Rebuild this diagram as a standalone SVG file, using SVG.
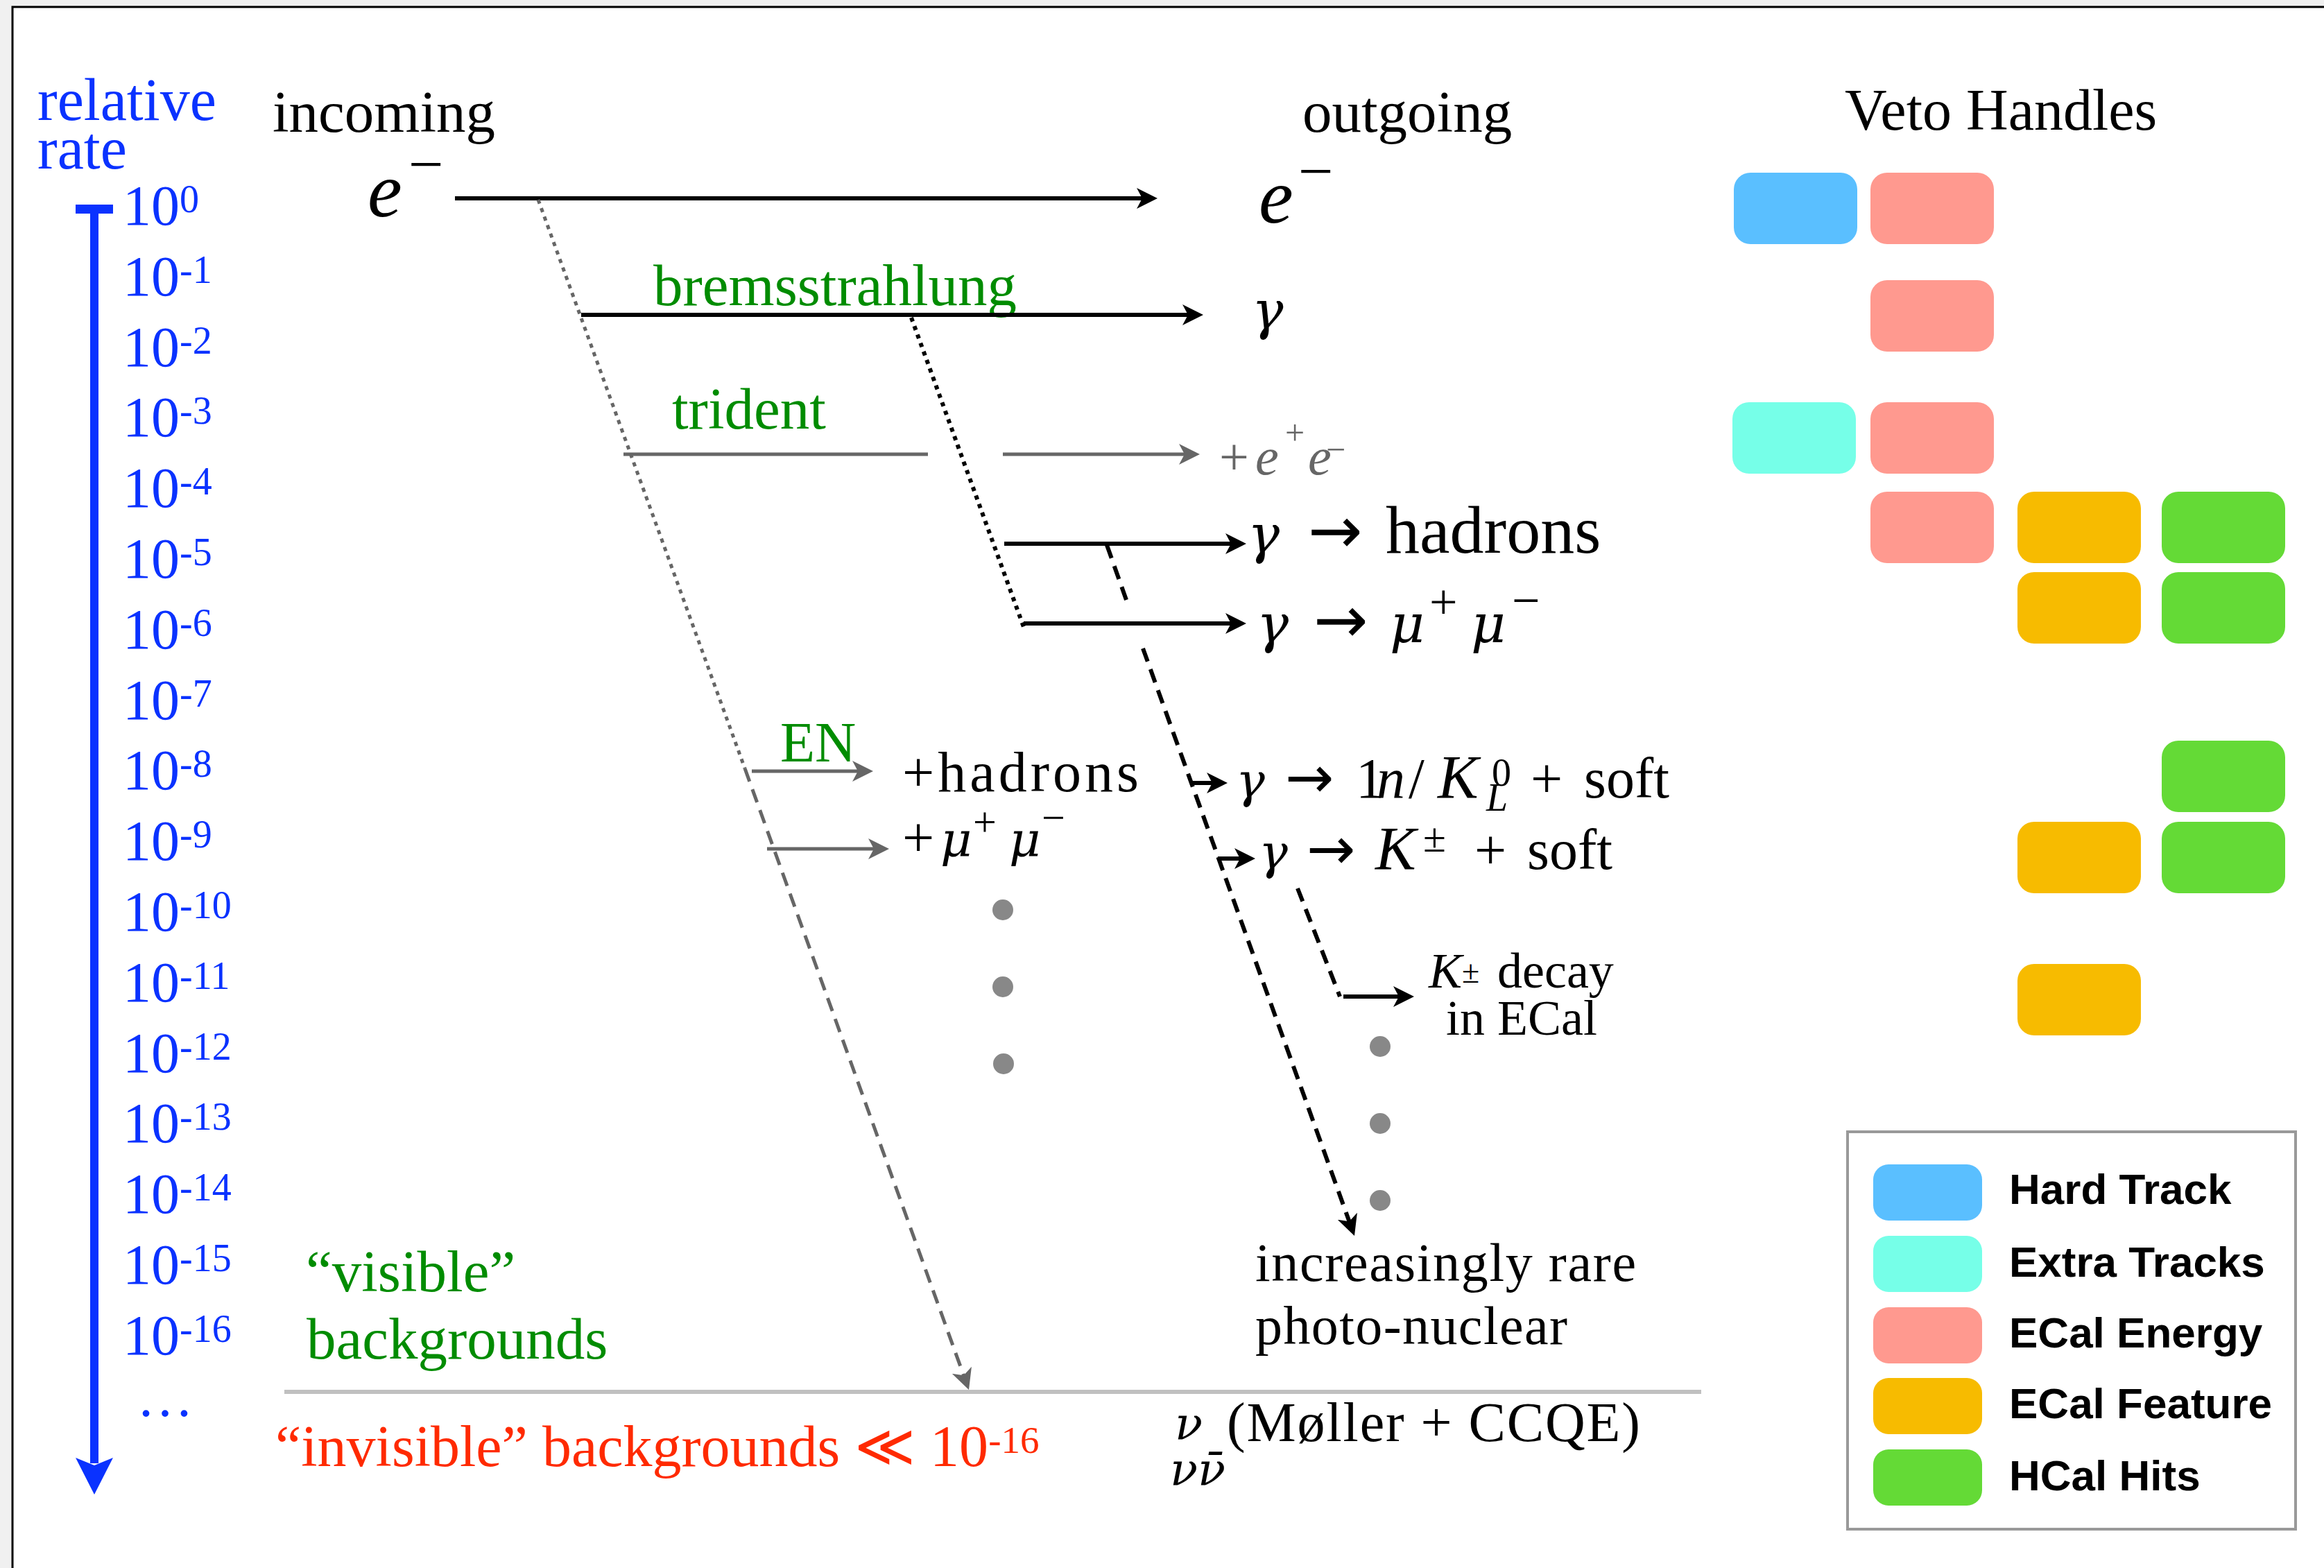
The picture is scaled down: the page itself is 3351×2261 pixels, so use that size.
<svg xmlns="http://www.w3.org/2000/svg" width="3351" height="2261" viewBox="0 0 3351 2261">
<style>
.t{font-family:"Liberation Serif","DejaVu Serif",serif;fill:#000}
.blue{fill:#0a32ff}
.green{fill:#008c00}
.red{fill:#ff2a00}
.gry{fill:#666}
.it{font-style:italic}
.gk{font-family:"DejaVu Serif",serif;font-style:italic}
.ar{font-family:"DejaVu Sans",sans-serif;font-style:normal}
.tick{font-family:"Liberation Serif","DejaVu Serif",serif;font-size:82px;fill:#0a32ff}
.sup{font-size:56px}
.leg{font-family:"Liberation Sans",Arial,sans-serif;font-weight:bold;font-size:62px;fill:#000}
.ln{fill:none;stroke:#000;stroke-width:6}
.lg{fill:none;stroke:#666;stroke-width:5}
.dotted{stroke-dasharray:6 7}
.dashed{stroke-dasharray:20 12}
.dot{fill:#888}
.ht{fill:#5abfff}.et{fill:#76ffe8}.ee{fill:#ff998f}.ef{fill:#f7bb00}.hh{fill:#64da36}
</style>
<defs>
<marker id="ah" markerUnits="userSpaceOnUse" markerWidth="30" markerHeight="34" viewBox="0 0 30 34" refX="20" refY="17" orient="auto"><path d="M0,2 L30,17 L0,32 L8,17 Z" fill="#000"/></marker>
<marker id="ahg" markerUnits="userSpaceOnUse" markerWidth="30" markerHeight="34" viewBox="0 0 30 34" refX="20" refY="17" orient="auto"><path d="M0,2 L30,17 L0,32 L8,17 Z" fill="#666"/></marker>
</defs>

<rect x="0" y="0" width="3351" height="2261" fill="#f0f0f0"/>
<rect x="18" y="10" width="3400" height="2300" fill="#fff" stroke="#000" stroke-width="3"/>

<g id="rate-scale">
<text class="t blue" font-size="86" x="54" y="173">relative</text>
<text class="t blue" font-size="86" x="54" y="243">rate</text>
<rect x="109" y="295" width="54" height="13" fill="#0a32ff"/>
<rect x="130" y="295" width="12" height="1815" fill="#0a32ff"/>
<polygon points="109,2102 136,2113 163,2102 136,2155" fill="#0a32ff"/>
<text class="tick" x="177" y="324">10<tspan class="sup" dy="-18">0</tspan></text>
<text class="tick" x="177" y="426">10<tspan class="sup" dy="-18">-1</tspan></text>
<text class="tick" x="177" y="528">10<tspan class="sup" dy="-18">-2</tspan></text>
<text class="tick" x="177" y="629">10<tspan class="sup" dy="-18">-3</tspan></text>
<text class="tick" x="177" y="731">10<tspan class="sup" dy="-18">-4</tspan></text>
<text class="tick" x="177" y="833">10<tspan class="sup" dy="-18">-5</tspan></text>
<text class="tick" x="177" y="935">10<tspan class="sup" dy="-18">-6</tspan></text>
<text class="tick" x="177" y="1037">10<tspan class="sup" dy="-18">-7</tspan></text>
<text class="tick" x="177" y="1138">10<tspan class="sup" dy="-18">-8</tspan></text>
<text class="tick" x="177" y="1240">10<tspan class="sup" dy="-18">-9</tspan></text>
<text class="tick" x="177" y="1342">10<tspan class="sup" dy="-18">-10</tspan></text>
<text class="tick" x="177" y="1444">10<tspan class="sup" dy="-18">-11</tspan></text>
<text class="tick" x="177" y="1546">10<tspan class="sup" dy="-18">-12</tspan></text>
<text class="tick" x="177" y="1647">10<tspan class="sup" dy="-18">-13</tspan></text>
<text class="tick" x="177" y="1749">10<tspan class="sup" dy="-18">-14</tspan></text>
<text class="tick" x="177" y="1851">10<tspan class="sup" dy="-18">-15</tspan></text>
<text class="tick" x="177" y="1953">10<tspan class="sup" dy="-18">-16</tspan></text>
<text class="tick" x="197" y="2042" font-size="56">…</text>
</g>

<g id="headers">
<text class="t" font-size="85" x="393" y="190">incoming</text>
<text class="t" font-size="85" x="1878" y="190">outgoing</text>
<text class="t" font-size="84" x="2660" y="187">Veto Handles</text>
</g>

<g id="incoming-electron"><text class="t it" font-size="112" x="530" y="312">e<tspan x="589" y="267" font-size="90" font-style="normal">−</tspan></text></g>
<g id="outgoing-electron"><text class="t it" font-size="112" x="1815" y="321">e<tspan x="1872" y="277" font-size="90" font-style="normal">−</tspan></text></g>
<g id="brems-label"><text class="t green" font-size="85" x="942" y="440">bremsstrahlung</text></g>
<g id="photon"><text class="t gk" font-size="76" x="1805" y="474">γ</text></g>
<g id="trident-label"><text class="t green" font-size="85" x="969" y="618">trident</text></g>
<g id="trident-out"><text class="t gry" font-size="76" y="684"><tspan x="1758">+</tspan><tspan x="1810" class="it">e</tspan><tspan x="1853" font-size="50" dy="-43">+</tspan><tspan x="1886" class="it" dy="43">e</tspan><tspan x="1912" font-size="50" dy="-19">−</tspan></text></g>
<g id="gamma-hadrons"><text class="t" font-size="90" y="797"><tspan x="1799" class="gk" font-size="77">γ</tspan><tspan x="1886" class="ar" font-size="94">→</tspan><tspan x="1998" font-size="98">hadrons</tspan></text></g>
<g id="gamma-mumu"><text class="t" font-size="90" y="926"><tspan x="1812" class="gk" font-size="77">γ</tspan><tspan x="1894" class="ar" font-size="94">→</tspan><tspan x="2004" class="gk" font-size="77">μ</tspan><tspan x="2061" font-size="72" dy="-34">+</tspan><tspan x="2121" class="gk" font-size="77" dy="34">μ</tspan><tspan x="2180" font-size="72" dy="-36">−</tspan></text></g>
<g id="en-label"><text class="t green" font-size="82" x="1125" y="1098">EN</text></g>
<g id="en-hadrons"><text class="t" font-size="82" x="1301" y="1141" textLength="341" lengthAdjust="spacing">+hadrons</text></g>
<g id="en-mumu"><text class="t" font-size="82" y="1235"><tspan x="1301">+</tspan><tspan x="1356" class="gk" font-size="70">μ</tspan><tspan x="1403" font-size="60" dy="-30">+</tspan><tspan x="1455" class="gk" font-size="70" dy="30">μ</tspan><tspan x="1502" font-size="60" dy="-36">−</tspan></text></g>
<g id="gamma-neutral"><text class="t" font-size="82" y="1150"><tspan x="1782" class="gk" font-size="70">γ</tspan><tspan x="1853" class="ar" font-size="84">→</tspan><tspan x="1955">1</tspan><tspan x="1985" class="it">n</tspan><tspan x="2031">/</tspan><tspan x="2073" class="it" font-size="88">K</tspan><tspan x="2151" font-size="56" dy="-17">0</tspan><tspan x="2143" font-size="56" class="it" dy="36">L</tspan><tspan x="2207" dy="-19">+</tspan><tspan x="2284">soft</tspan></text></g>
<g id="gamma-kaon"><text class="t" font-size="82" y="1253"><tspan x="1815" class="gk" font-size="70">γ</tspan><tspan x="1884" class="ar" font-size="84">→</tspan><tspan x="1983" class="it" font-size="88">K</tspan><tspan x="2052" font-size="60" dy="-25">±</tspan><tspan x="2126" dy="25">+</tspan><tspan x="2202">soft</tspan></text></g>
<g id="kaon-decay"><text class="t" font-size="72" y="1424"><tspan x="2060" class="it">K</tspan><tspan x="2108" font-size="46" dy="-7">±</tspan><tspan x="2159" dy="7">decay</tspan></text><text class="t" font-size="72" x="2085" y="1492">in ECal</text></g>
<g id="en-more"><circle class="dot" cx="1446" cy="1312" r="15"/><circle class="dot" cx="1446" cy="1423" r="15"/><circle class="dot" cx="1447" cy="1534" r="15"/></g>
<g id="pn-more"><circle class="dot" cx="1990" cy="1509" r="15"/><circle class="dot" cx="1990" cy="1620" r="15"/><circle class="dot" cx="1990" cy="1731" r="15"/></g>
<g id="photonuclear-label"><text class="t" font-size="78" x="1810" y="1847" textLength="549" lengthAdjust="spacing">increasingly rare</text><text class="t" font-size="78" x="1810" y="1938" textLength="450" lengthAdjust="spacing">photo-nuclear</text></g>
<g id="visible-label"><text class="t green" font-size="85" x="441" y="1862">“visible”</text><text class="t green" font-size="85" x="442" y="1959">backgrounds</text></g>
<g id="invisible-label"><text class="t red" font-size="84" x="397" y="2114">“invisible” backgrounds ≪ 10<tspan font-size="55" dy="-19">-16</tspan></text></g>
<g id="neutrino-label"><text class="t gk" font-size="66" x="1694" y="2076">ν</text><text class="t gk" font-size="66" x="1687" y="2142">νν̄</text><text class="t" font-size="80" x="1769" y="2078" textLength="596" lengthAdjust="spacing">(Møller + CCQE)</text></g>

<g id="separator"><line x1="410" y1="2007" x2="2453" y2="2007" stroke="#c0c0c0" stroke-width="6"/></g>

<g id="veto-handles">
<rect class="ht" x="2500" y="249" width="178" height="103" rx="24"/>
<rect class="ee" x="2697" y="249" width="178" height="103" rx="24"/>
<rect class="ee" x="2697" y="404" width="178" height="103" rx="24"/>
<rect class="et" x="2498" y="580" width="178" height="103" rx="24"/>
<rect class="ee" x="2697" y="580" width="178" height="103" rx="24"/>
<rect class="ee" x="2697" y="709" width="178" height="103" rx="24"/>
<rect class="ef" x="2909" y="709" width="178" height="103" rx="24"/>
<rect class="hh" x="3117" y="709" width="178" height="103" rx="24"/>
<rect class="ef" x="2909" y="825" width="178" height="103" rx="24"/>
<rect class="hh" x="3117" y="825" width="178" height="103" rx="24"/>
<rect class="hh" x="3117" y="1068" width="178" height="103" rx="24"/>
<rect class="ef" x="2909" y="1185" width="178" height="103" rx="24"/>
<rect class="hh" x="3117" y="1185" width="178" height="103" rx="24"/>
<rect class="ef" x="2909" y="1390" width="178" height="103" rx="24"/>
</g>

<g id="legend">
<rect x="2664" y="1632" width="646" height="573" fill="#fff" stroke="#999" stroke-width="4"/>
<rect class="ht" x="2701" y="1679" width="157" height="81" rx="22"/>
<rect class="et" x="2701" y="1782" width="157" height="81" rx="22"/>
<rect class="ee" x="2701" y="1885" width="157" height="81" rx="22"/>
<rect class="ef" x="2701" y="1987" width="157" height="81" rx="22"/>
<rect class="hh" x="2701" y="2090" width="157" height="81" rx="22"/>
<text class="leg" x="2897" y="1736">Hard Track</text>
<text class="leg" x="2897" y="1841">Extra Tracks</text>
<text class="leg" x="2897" y="1943">ECal Energy</text>
<text class="leg" x="2897" y="2045">ECal Feature</text>
<text class="leg" x="2897" y="2149">HCal Hits</text>
</g>

<g id="connectors">
<line class="ln" x1="656" y1="286" x2="1659" y2="286" marker-end="url(#ah)"/>
<line class="ln" x1="838" y1="454" x2="1725" y2="454" marker-end="url(#ah)"/>
<line class="lg dotted" x1="776" y1="288" x2="1074" y2="1108" stroke-width="6"/>
<line class="lg dashed" x1="1074" y1="1108" x2="1393.6" y2="1994.6" marker-end="url(#ahg)"/>
<line class="lg" x1="899" y1="655" x2="1338" y2="655"/>
<line class="lg" x1="1446" y1="655" x2="1720" y2="655" marker-end="url(#ahg)"/>
<line class="ln dotted" x1="1314" y1="458" x2="1476" y2="904"/>
<line class="ln" x1="1448" y1="784" x2="1787" y2="784" marker-end="url(#ah)"/>
<line class="ln" x1="1476" y1="899" x2="1787" y2="899" marker-end="url(#ah)"/>
<line class="ln dashed" x1="1596" y1="786" x2="1624" y2="865" stroke-width="5"/>
<line class="ln dashed" x1="1648" y1="935" x2="1949.6" y2="1772.6" stroke-width="5" marker-end="url(#ah)"/>
<line class="lg" x1="1084" y1="1112" x2="1249" y2="1112" marker-end="url(#ahg)"/>
<line class="lg" x1="1106" y1="1224" x2="1272" y2="1224" marker-end="url(#ahg)"/>
<line class="ln" x1="1716" y1="1129" x2="1760" y2="1129" marker-end="url(#ah)"/>
<line class="ln" x1="1756" y1="1238" x2="1800" y2="1238" marker-end="url(#ah)"/>
<line class="ln dashed" x1="1871" y1="1281" x2="1932" y2="1437" stroke-width="5"/>
<line class="ln" x1="1937" y1="1437" x2="2029" y2="1437" marker-end="url(#ah)"/>
</g>
</svg>
